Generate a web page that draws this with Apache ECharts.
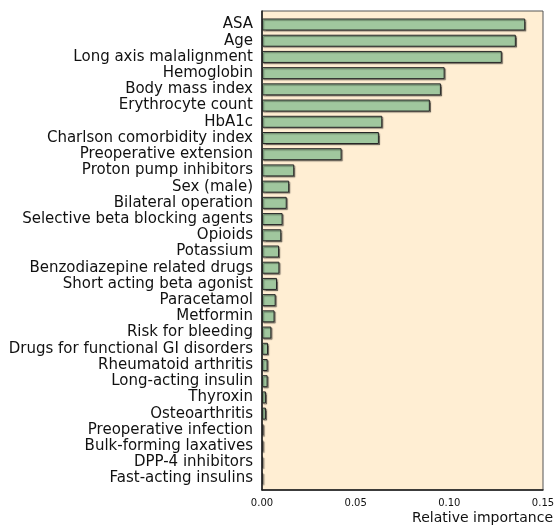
<!DOCTYPE html>
<html>
<head>
<meta charset="utf-8">
<script src="https://cdn.jsdelivr.net/npm/echarts@6/dist/echarts.min.js"></script>
<style>
  html, body { margin: 0; padding: 0; background: #ffffff; }
  #chart { width: 559px; height: 526px; }
</style>
</head>
<body>
<div id="chart"></div>
<script>
// Predictors, ordered from most to least important
const categories = [
  'ASA', 'Age', 'Long axis malalignment', 'Hemoglobin', 'Body mass index',
  'Erythrocyte count', 'HbA1c', 'Charlson comorbidity index', 'Preoperative extension',
  'Proton pump inhibitors', 'Sex (male)', 'Bilateral operation',
  'Selective beta blocking agents', 'Opioids', 'Potassium',
  'Benzodiazepine related drugs', 'Short acting beta agonist', 'Paracetamol',
  'Metformin', 'Risk for bleeding', 'Drugs for functional GI disorders',
  'Rheumatoid arthritis', 'Long-acting insulin', 'Thyroxin', 'Osteoarthritis',
  'Preoperative infection', 'Bulk-forming laxatives', 'DPP-4 inhibitors',
  'Fast-acting insulins'
];

// Relative importance of each predictor
const importance = [
  0.1405, 0.1355, 0.1280, 0.0975, 0.0955,
  0.0896, 0.0642, 0.0624, 0.0425,
  0.0172, 0.0145, 0.0132,
  0.0110, 0.0103, 0.0091,
  0.0093, 0.0080, 0.0073,
  0.0067, 0.0050, 0.0032,
  0.0030, 0.0030, 0.0021, 0.0021,
  0.0008, 0.0007, 0.0006,
  0.0006
];

// X axis ticks
const xTicks = [0.00, 0.05, 0.10, 0.15];

const FONT = 'DejaVu Sans';
const INK = '#111111';

const chart = echarts.init(document.getElementById('chart'), null, { renderer: 'canvas' });

chart.setOption({
  animation: false,
  grid: [
    // frame: shaded panel with the value axis
    { left: 262, right: 16, top: 11, bottom: 36, show: true,
      backgroundColor: '#FFEED3', borderColor: '#555555', borderWidth: 1 },
    // bars
    { left: 262, right: 16, top: 16.4, bottom: 39.4 }
  ],
  xAxis: [
    {
      gridIndex: 0, type: 'value',
      min: xTicks[0], max: xTicks[xTicks.length - 1], interval: 0.05,
      axisLine: { show: true, lineStyle: { color: '#1a1a1a', width: 1.5 } },
      axisTick: { show: false },
      splitLine: { show: false },
      axisLabel: {
        margin: 8, fontFamily: FONT, fontSize: 10, color: INK,
        formatter: v => v.toFixed(2)
      },
      name: 'Relative importance',
      nameLocation: 'end',
      nameGap: 10,
      nameTextStyle: {
        fontFamily: FONT, fontSize: 14, color: INK,
        align: 'right', verticalAlign: 'top', padding: [21, 0, 0, 0]
      }
    },
    {
      gridIndex: 1, type: 'value',
      min: xTicks[0], max: xTicks[xTicks.length - 1],
      show: false
    }
  ],
  yAxis: [
    {
      gridIndex: 0, type: 'value', min: 0, max: 1,
      axisLine: { show: true, lineStyle: { color: '#1a1a1a', width: 1.5 } },
      axisTick: { show: false }, axisLabel: { show: false }, splitLine: { show: false }
    },
    {
      gridIndex: 1, type: 'category', data: categories, inverse: true,
      axisLine: { show: false }, axisTick: { show: false },
      axisLabel: { interval: 0, margin: 9, fontFamily: FONT, fontSize: 15, color: INK }
    }
  ],
  series: [{
    type: 'bar',
    xAxisIndex: 1, yAxisIndex: 1,
    data: importance,
    barWidth: 12,
    itemStyle: {
      color: '#A0C79E',
      borderColor: '#262626',
      borderWidth: 1,
      shadowColor: 'rgba(0,0,0,0.4)',
      shadowOffsetX: 1.2,
      shadowOffsetY: 1.2,
      shadowBlur: 1
    }
  }]
});
</script>
</body>
</html>
